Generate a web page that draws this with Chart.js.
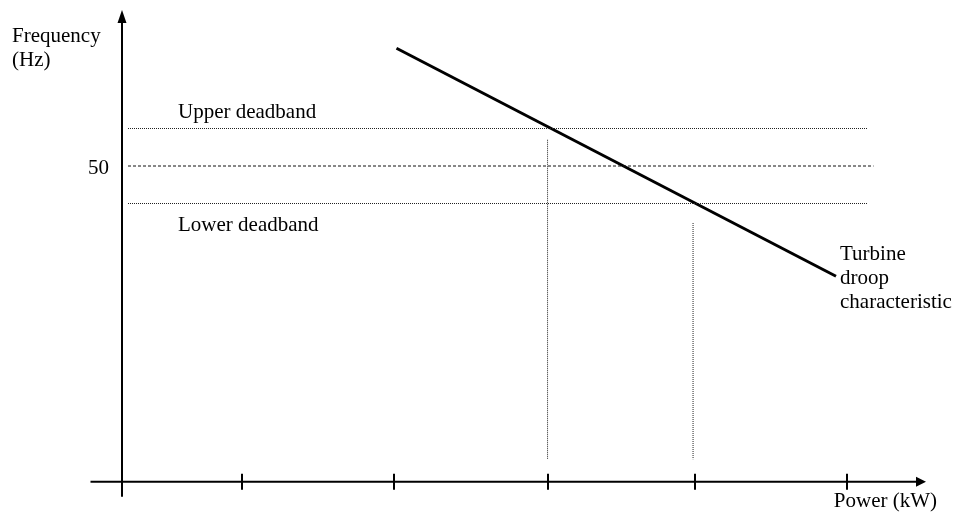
<!DOCTYPE html>
<html>
<head>
<meta charset="utf-8">
<script src="https://cdn.jsdelivr.net/npm/chart.js@4.4.0/dist/chart.umd.min.js"></script>
<style>
  html, body { margin: 0; padding: 0; background: #fff; }
  #wrap { width: 954px; height: 515px; }
</style>
</head>
<body>
<div id="wrap"><canvas id="droopChart"></canvas></div>
<script>
// values in diagram units: power (arbitrary kW units), frequency (Hz)
const powerTicks = [0.8, 1.81, 2.84, 3.82, 4.83];
const nominalFreq = 50;
const upperDeadband = 50.5;
const lowerDeadband = 49.5;
const droopPower = [1.83, 4.76];
const droopFreq = [51.57, 48.53];
const bandPower = [0.04, 4.97];
const nominalPower = [0.04, 5.01];
const responsePower = [2.837, 3.807];
const responseTop = [50.35, 49.24];
const responseBottom = 46.09;
const xAxisRange = [-0.21, 5.36];
const yAxisRange = [45.59, 52.08];
const axisFreq = 45.79;

const FONT = '21px "Liberation Serif", "Times New Roman", serif';

const seg = (x0, y0, x1, y1) => [{ x: x0, y: y0 }, { x: x1, y: y1 }];
const lineSet = (data, color, width, dash) => ({
    data, borderColor: color, borderWidth: width, borderDash: dash || [],
    pointRadius: 0, showLine: true, fill: false, tension: 0, borderCapStyle: 'butt'
});

const datasets = [
    lineSet(seg(xAxisRange[0], axisFreq, xAxisRange[1] - 0.05, axisFreq), '#000', 2),
    lineSet(seg(0, yAxisRange[0], 0, yAxisRange[1] - 0.1), '#000', 2),
    lineSet(seg(bandPower[0], upperDeadband, bandPower[1], upperDeadband), '#222', 1, [1, 1]),
    lineSet(seg(nominalPower[0], nominalFreq, nominalPower[1], nominalFreq), '#111', 1, [3, 2]),
    lineSet(seg(bandPower[0], lowerDeadband, bandPower[1], lowerDeadband), '#222', 1, [1, 1]),
    lineSet(seg(responsePower[0], responseTop[0], responsePower[0], responseBottom), '#222', 1, [1, 1]),
    lineSet(seg(responsePower[1], responseTop[1], responsePower[1], responseBottom), '#222', 1, [1, 1]),
    lineSet(seg(droopPower[0], droopFreq[0], droopPower[1], droopFreq[1]), '#000', 3)
];

const decorations = {
    id: 'decorations',
    afterDatasetsDraw(chart) {
        const { ctx, scales: { x, y } } = chart;
        ctx.save();
        ctx.fillStyle = '#000';
        ctx.strokeStyle = '#000';

        // tick marks on the power axis
        ctx.lineWidth = 2;
        const ay = y.getPixelForValue(axisFreq);
        powerTicks.forEach(p => {
            const px = Math.round(x.getPixelForValue(p));
            ctx.beginPath();
            ctx.moveTo(px, ay - 8);
            ctx.lineTo(px, ay + 8);
            ctx.stroke();
        });

        // arrow heads
        const tipX = x.getPixelForValue(xAxisRange[1]);
        ctx.beginPath();
        ctx.moveTo(tipX, ay);
        ctx.lineTo(tipX - 10, ay - 5);
        ctx.lineTo(tipX - 10, ay + 5);
        ctx.closePath();
        ctx.fill();
        const ax = x.getPixelForValue(0);
        const tipY = y.getPixelForValue(yAxisRange[1]);
        ctx.beginPath();
        ctx.moveTo(ax, tipY);
        ctx.lineTo(ax - 4.5, tipY + 13);
        ctx.lineTo(ax + 4.5, tipY + 13);
        ctx.closePath();
        ctx.fill();

        // labels
        ctx.font = FONT;
        ctx.textBaseline = 'alphabetic';
        ctx.textAlign = 'left';
        ctx.fillText('Frequency', 12, 42);
        ctx.fillText('(Hz)', 12, 66);
        ctx.textAlign = 'right';
        ctx.fillText(String(nominalFreq), ax - 13, y.getPixelForValue(nominalFreq) + 8);
        ctx.fillText('Power (kW)', 937, 507);
        ctx.textAlign = 'left';
        ctx.fillText('Upper deadband', 178, y.getPixelForValue(upperDeadband) - 11);
        ctx.fillText('Lower deadband', 178, y.getPixelForValue(lowerDeadband) + 27);
        ctx.fillText('Turbine', 840, 260);
        ctx.fillText('droop', 840, 284);
        ctx.fillText('characteristic', 840, 308);
        ctx.restore();
    }
};

new Chart(document.getElementById('droopChart'), {
    type: 'scatter',
    data: { datasets },
    options: {
        responsive: true,
        maintainAspectRatio: false,
        animation: false,
        layout: { padding: 0 },
        plugins: { legend: { display: false }, tooltip: { enabled: false } },
        scales: {
            x: { type: 'linear', display: false, min: -122 / 150, max: (954 - 122) / 150 },
            y: { type: 'linear', display: false, min: 50 - 349 / 75, max: 50 + 166 / 75 }
        }
    },
    plugins: [decorations]
});
</script>
</body>
</html>
